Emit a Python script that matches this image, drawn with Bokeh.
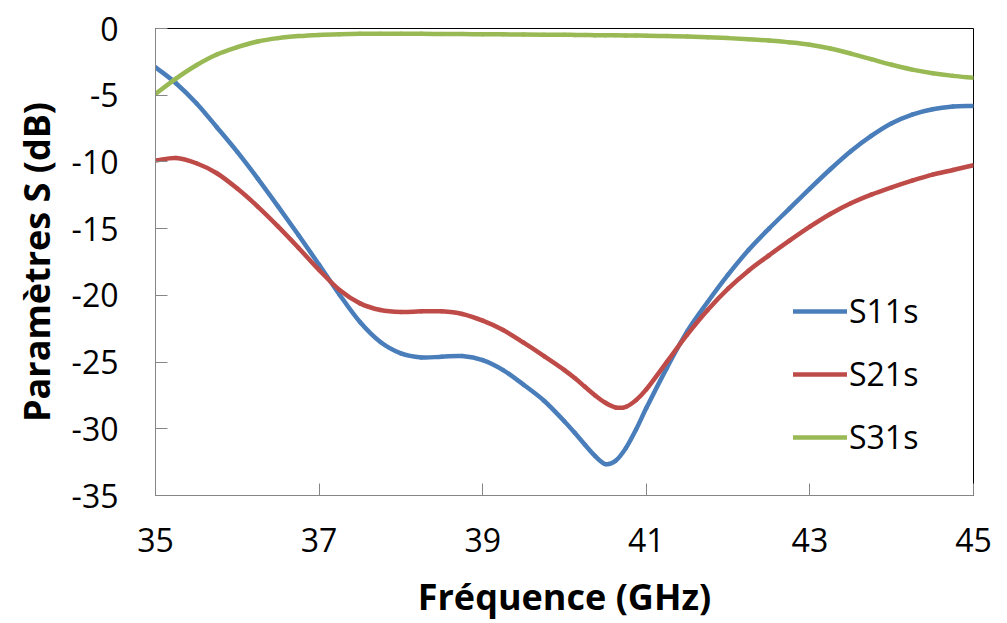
from bokeh.plotting import figure
from bokeh.models import FixedTicker, Legend, LegendItem, Range1d
from bokeh.embed import file_html
from bokeh.resources import INLINE

# Frequency sweep (GHz) and S-parameters (dB)
freq = [35.0, 35.25, 35.5, 35.75, 36.0, 36.25, 36.5, 36.75, 37.0, 37.25,
        37.5, 37.75, 38.0, 38.25, 38.5, 38.75, 39.0, 39.25, 39.5, 39.75,
        40.0, 40.125, 40.25, 40.375, 40.5, 40.625, 40.75, 40.875, 41.0,
        41.25, 41.5, 41.75, 42.0, 42.25, 42.5, 42.75, 43.0, 43.25, 43.5,
        43.75, 44.0, 44.25, 44.5, 44.75, 45.0]

s11 = [-2.9, -4.1, -5.6, -7.4, -9.25, -11.25, -13.35, -15.5, -17.7, -19.95,
       -22.0, -23.5, -24.35, -24.65, -24.6, -24.55, -24.85, -25.6, -26.7, -27.9,
       -29.45, -30.3, -31.2, -32.05, -32.65, -32.4, -31.45, -30.05, -28.45,
       -25.45, -22.7, -20.5, -18.45, -16.6, -15.0, -13.5, -12.0, -10.55, -9.2,
       -8.05, -7.1, -6.45, -6.05, -5.85, -5.8]

s21 = [-9.9, -9.7, -10.1, -10.85, -12.0, -13.35, -14.85, -16.45, -18.1, -19.6,
       -20.6, -21.1, -21.25, -21.2, -21.2, -21.4, -21.9, -22.6, -23.55, -24.55,
       -25.6, -26.2, -26.85, -27.5, -28.05, -28.4, -28.35, -27.85, -27.05,
       -25.0, -22.95, -21.1, -19.5, -18.15, -17.0, -15.9, -14.85, -13.9, -13.1,
       -12.45, -11.9, -11.4, -10.95, -10.6, -10.25]

s31 = [-4.9, -3.75, -2.75, -1.95, -1.4, -0.97, -0.72, -0.57, -0.48, -0.43,
       -0.4, -0.4, -0.4, -0.4, -0.41, -0.42, -0.43, -0.44, -0.45, -0.46,
       -0.47, -0.48, -0.49, -0.5, -0.5, -0.51, -0.52, -0.53, -0.54,
       -0.57, -0.6, -0.65, -0.72, -0.8, -0.9, -1.04, -1.22, -1.5, -1.88,
       -2.3, -2.72, -3.08, -3.35, -3.55, -3.7]

series_names = ["S11s", "S21s", "S31s"]
series_colors = ["#4A7EBB", "#BE4B48", "#98B954"]

x_ticks = [35, 37, 39, 41, 43, 45]
x_tick_labels = ["35", "37", "39", "41", "43", "45"]
y_ticks = [-35, -30, -25, -20, -15, -10, -5, 0]
y_tick_labels = ["-35", "-30", "-25", "-20", "-15", "-10", "-5", "0"]

FONT = "Open Sans"
AXIS_GREY = "#868686"


def smooth_segments(xs, ys):
    """Cubic Hermite (smoothed line) segments through the points, as Bezier parts."""
    n = len(xs)
    slopes = []
    for i in range(n):
        a = max(i - 1, 0)
        b = min(i + 1, n - 1)
        slopes.append((ys[b] - ys[a]) / (xs[b] - xs[a]))
    seg = dict(x0=[], y0=[], x1=[], y1=[], cx0=[], cy0=[], cx1=[], cy1=[])
    for i in range(n - 1):
        h = xs[i + 1] - xs[i]
        seg["x0"].append(xs[i])
        seg["y0"].append(ys[i])
        seg["x1"].append(xs[i + 1])
        seg["y1"].append(ys[i + 1])
        seg["cx0"].append(xs[i] + h / 3)
        seg["cy0"].append(ys[i] + slopes[i] * h / 3)
        seg["cx1"].append(xs[i + 1] - h / 3)
        seg["cy1"].append(ys[i + 1] - slopes[i + 1] * h / 3)
    return seg


p = figure(width=1007, height=623, output_backend="svg", toolbar_location=None,
           x_range=Range1d(35, 45), y_range=Range1d(-35, 0),
           min_border_left=155, min_border_right=34,
           min_border_top=28, min_border_bottom=127)

p.xgrid.visible = False
p.ygrid.visible = False
p.outline_line_color = "black"
p.outline_line_width = 1
p.background_fill_color = "white"
p.border_fill_color = "white"

renderers = []
for ys, color in zip([s11, s21, s31], series_colors):
    seg = smooth_segments(freq, ys)
    r = p.bezier(line_color=color, line_width=4.5, line_cap="round",
                 line_join="round", **seg)
    renderers.append(r)

for ax in (p.xaxis[0], p.yaxis[0]):
    ax.axis_line_color = AXIS_GREY
    ax.axis_line_width = 1
    ax.major_tick_line_color = AXIS_GREY
    ax.major_tick_in = 12
    ax.major_tick_out = 0
    ax.minor_tick_line_color = None
    ax.major_label_text_font = FONT
    ax.major_label_text_font_size = "32px"
    ax.major_label_text_color = "black"
    ax.axis_label_text_font = FONT
    ax.axis_label_text_font_size = "36px"
    ax.axis_label_text_font_style = "bold"
    ax.axis_label_text_color = "black"

p.xaxis.ticker = FixedTicker(ticks=x_ticks)
p.xaxis.major_label_overrides = dict(zip(x_ticks, x_tick_labels))
p.xaxis.axis_label = "Fréquence (GHz)"
p.xaxis.major_label_standoff = 32
p.xaxis.axis_label_standoff = 17

p.yaxis.ticker = FixedTicker(ticks=y_ticks)
p.yaxis.major_label_overrides = dict(zip(y_ticks, y_tick_labels))
p.yaxis.axis_label = "Paramètres S (dB)"
p.yaxis.major_label_standoff = 37
p.yaxis.axis_label_standoff = 8

legend = Legend(
    items=[LegendItem(label=n, renderers=[r]) for n, r in zip(series_names, renderers)],
    location=(638, 37),
    border_line_color=None,
    background_fill_alpha=0,
    padding=0, margin=0,
    glyph_width=54, glyph_height=40, label_height=40,
    label_standoff=2, spacing=20,
    label_text_font=FONT, label_text_font_size="32px", label_text_color="black",
)
p.add_layout(legend, "center")

open("out.html", "w").write(file_html(p, INLINE))
